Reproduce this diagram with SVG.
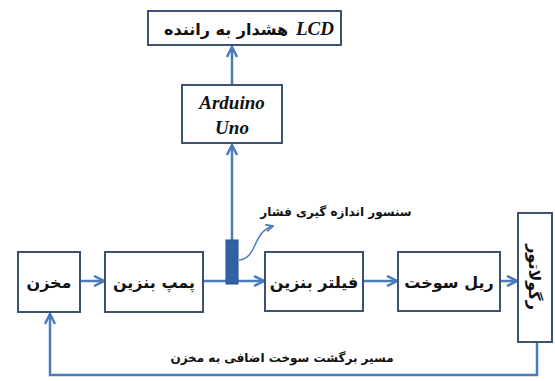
<svg xmlns="http://www.w3.org/2000/svg" width="555" height="381" viewBox="0 0 555 381">
<style>
.box{fill:#fff;stroke:#3d5270;stroke-width:2}
.lbl{font-family:"DejaVu Sans",sans-serif;font-weight:bold;font-size:16px;fill:#111;text-anchor:middle}
.en{font-family:"Liberation Serif",serif;font-weight:bold;font-style:italic;font-size:19px;fill:#111;text-anchor:middle}
.con{fill:none;stroke:#4a7cb8;stroke-width:2.5}
.thin{fill:none;stroke:#4a7cb8;stroke-width:1.5}
</style>
<defs>
<marker id="ah" viewBox="0 0 10 10" refX="9" refY="5" markerWidth="5" markerHeight="5" orient="auto" markerUnits="strokeWidth">
<path d="M1,1 L9,5 L1,9" fill="none" stroke="#4a7cb8" stroke-width="2"/>
</marker>
<marker id="ah2" viewBox="0 0 10 10" refX="9" refY="5" markerWidth="6" markerHeight="6" orient="auto" markerUnits="strokeWidth">
<path d="M1,1 L9,5 L1,9" fill="none" stroke="#4a7cb8" stroke-width="2"/>
</marker>
</defs>
<rect width="555" height="381" fill="#fff"/>
<g id="connectors">
<line class="con" x1="232" y1="84" x2="232" y2="47" marker-end="url(#ah)"/>
<line class="con" x1="232" y1="240" x2="232" y2="145" marker-end="url(#ah)"/>
<line class="con" x1="80" y1="281" x2="104" y2="281" marker-end="url(#ah)"/>
<line class="con" x1="203" y1="281" x2="264" y2="281" marker-end="url(#ah)"/>
<line class="con" x1="363" y1="281" x2="397" y2="281" marker-end="url(#ah)"/>
<line class="con" x1="500" y1="281" x2="517" y2="281" marker-end="url(#ah)"/>
<polyline class="con" points="537,342 537,375 50,375 50,314" marker-end="url(#ah)"/>
<path class="thin" d="M239,260 C258,258 252,232 273,226" marker-end="url(#ah2)"/>
</g>
<g id="lcd">
<rect class="box" x="148" y="11" width="193" height="34"/>
<text class="lbl" x="226" y="35">هشدار به راننده</text>
<text class="en" x="315" y="35">LCD</text>
</g>
<g id="arduino">
<rect class="box" x="182" y="85" width="100" height="58"/>
<text class="en" x="232" y="109">Arduino</text>
<text class="en" x="232" y="134">Uno</text>
</g>
<g id="sensor">
<rect x="226" y="240" width="12" height="44" fill="#2f62a3" stroke="#24508a" stroke-width="1"/>
<text class="lbl" x="336" y="216" style="font-size:12px">سنسور اندازه گیری فشار</text>
</g>
<g id="makhzan">
<rect class="box" x="18" y="252" width="62" height="60"/>
<text class="lbl" x="49" y="288">مخزن</text>
</g>
<g id="pump">
<rect class="box" x="105" y="252" width="98" height="60"/>
<text class="lbl" x="154" y="288">پمپ بنزین</text>
</g>
<g id="filter">
<rect class="box" x="265" y="252" width="98" height="59"/>
<text class="lbl" x="314" y="288">فیلتر بنزین</text>
</g>
<g id="rail">
<rect class="box" x="398" y="252" width="102" height="59"/>
<text class="lbl" x="449" y="288">ریل سوخت</text>
</g>
<g id="regulator">
<rect class="box" x="518" y="213" width="34" height="129"/>
<text class="lbl" transform="translate(535,277) rotate(90)" dy="6">رگولاتور</text>
</g>
<g id="return-label">
<text class="lbl" x="282" y="362" style="font-size:12px">مسیر برگشت سوخت اضافی به مخزن</text>
</g>
</svg>
